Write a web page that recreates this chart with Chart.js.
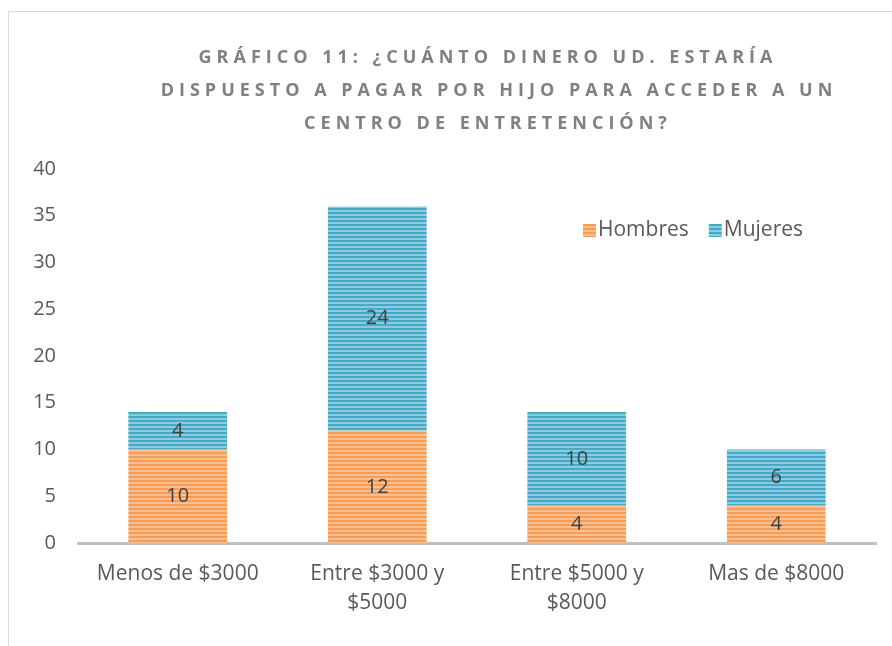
<!DOCTYPE html>
<html>
<head>
<meta charset="utf-8">
<script src="https://cdn.jsdelivr.net/npm/chart.js@4"></script>
<style>
  html, body { margin: 0; padding: 0; background: #fff; }
  #wrap { position: relative; width: 892px; height: 646px; }
</style>
</head>
<body>
<div id="wrap"><canvas id="myChart" width="892" height="646"></canvas></div>
<script>
var categories = [['Menos de $3000'], ['Entre $3000 y', '$5000'], ['Entre $5000 y', '$8000'], ['Mas de $8000']];
var hombres = [10, 12, 4, 4];
var mujeres = [4, 24, 10, 6];
var yMin = 0, yMax = 40, yStep = 5;
var titleLines = ['GRÁFICO 11: ¿CUÁNTO DINERO UD. ESTARÍA', 'DISPUESTO A PAGAR POR HIJO PARA ACCEDER A UN', 'CENTRO DE ENTRETENCIÓN?'];

var fontFam = '"Open Sans", "DejaVu Sans", sans-serif';

// striped fill like the original
function stripes(dark, light) {
  var c = document.createElement('canvas');
  c.width = 4; c.height = 4;
  var g = c.getContext('2d');
  g.fillStyle = light; g.fillRect(0, 0, 4, 4);
  g.fillStyle = dark; g.fillRect(0, 0, 4, 2);
  return g.createPattern(c, 'repeat');
}
var orangeFill = stripes('#F59D56', '#F9BF90');
var blueFill = stripes('#47A9C4', '#8ACDE0');

var extras = {
  id: 'extras',
  beforeDraw: function (chart) {
    var ctx = chart.ctx;
    ctx.save();
    ctx.strokeStyle = '#d9d9d9';
    ctx.lineWidth = 1;
    ctx.strokeRect(8.5, 11.5, 950, 700);
    ctx.restore();
  },
  afterDraw: function (chart) {
    var ctx = chart.ctx;
    ctx.save();
    // title with letter spacing
    ctx.font = 'bold 18px ' + fontFam;
    ctx.fillStyle = '#808080';
    ctx.letterSpacing = '5px';
    ctx.textAlign = 'center';
    ctx.textBaseline = 'middle';
    var ty = [58, 91, 124];
    var tx = [488, 499, 488];
    for (var i = 0; i < titleLines.length; i++) {
      ctx.fillText(titleLines[i], tx[i], ty[i]);
    }
    ctx.letterSpacing = '0px';

    // segment labels
    ctx.font = '20px ' + fontFam;
    ctx.fillStyle = '#404040';
    chart.data.datasets.forEach(function (ds, di) {
      var meta = chart.getDatasetMeta(di);
      meta.data.forEach(function (bar, j) {
        var p = bar.getProps(['x', 'y', 'base'], true);
        ctx.fillText(String(ds.data[j]), p.x, (p.y + p.base) / 2);
      });
    });

    // legend inside the plot
    var lx = 583, ly = 230;
    ctx.textAlign = 'left';
    ctx.font = '21px ' + fontFam;
    chart.data.datasets.forEach(function (ds) {
      ctx.fillStyle = ds.backgroundColor;
      ctx.fillRect(lx, ly - 6, 13, 13);
      ctx.fillStyle = '#595959';
      ctx.fillText(ds.label, lx + 15, ly);
      lx += 15 + ctx.measureText(ds.label).width + 20;
    });
    ctx.restore();
  }
};

var ctx = document.getElementById('myChart');
var myChart = new Chart(ctx, {
  type: 'bar',
  data: {
    labels: categories,
    datasets: [
      { label: 'Hombres', data: hombres, backgroundColor: orangeFill, borderWidth: 0 },
      { label: 'Mujeres', data: mujeres, backgroundColor: blueFill, borderWidth: 0 }
    ]
  },
  options: {
    responsive: false,
    animation: false,
    layout: { padding: { top: 169, right: 16, left: 0, bottom: 0 } },
    plugins: {
      legend: { display: false },
      title: { display: false },
      tooltip: { enabled: false }
    },
    datasets: { bar: { barPercentage: 1, categoryPercentage: 0.495 } },
    scales: {
      x: {
        stacked: true,
        grid: { display: false, drawTicks: false },
        border: { display: true, color: '#bfbfbf', width: 3 },
        ticks: { color: '#595959', font: { family: fontFam, size: 21, lineHeight: 1.35 }, padding: 17 },
        afterFit: function (s) { s.height = 103; }
      },
      y: {
        stacked: true,
        min: yMin, max: yMax,
        grid: { display: false, drawTicks: false },
        border: { display: false },
        ticks: { stepSize: yStep, color: '#595959', font: { family: fontFam, size: 20 }, padding: 22 },
        afterFit: function (s) { s.width = 78; }
      }
    }
  },
  plugins: [extras]
});
</script>
</body>
</html>
